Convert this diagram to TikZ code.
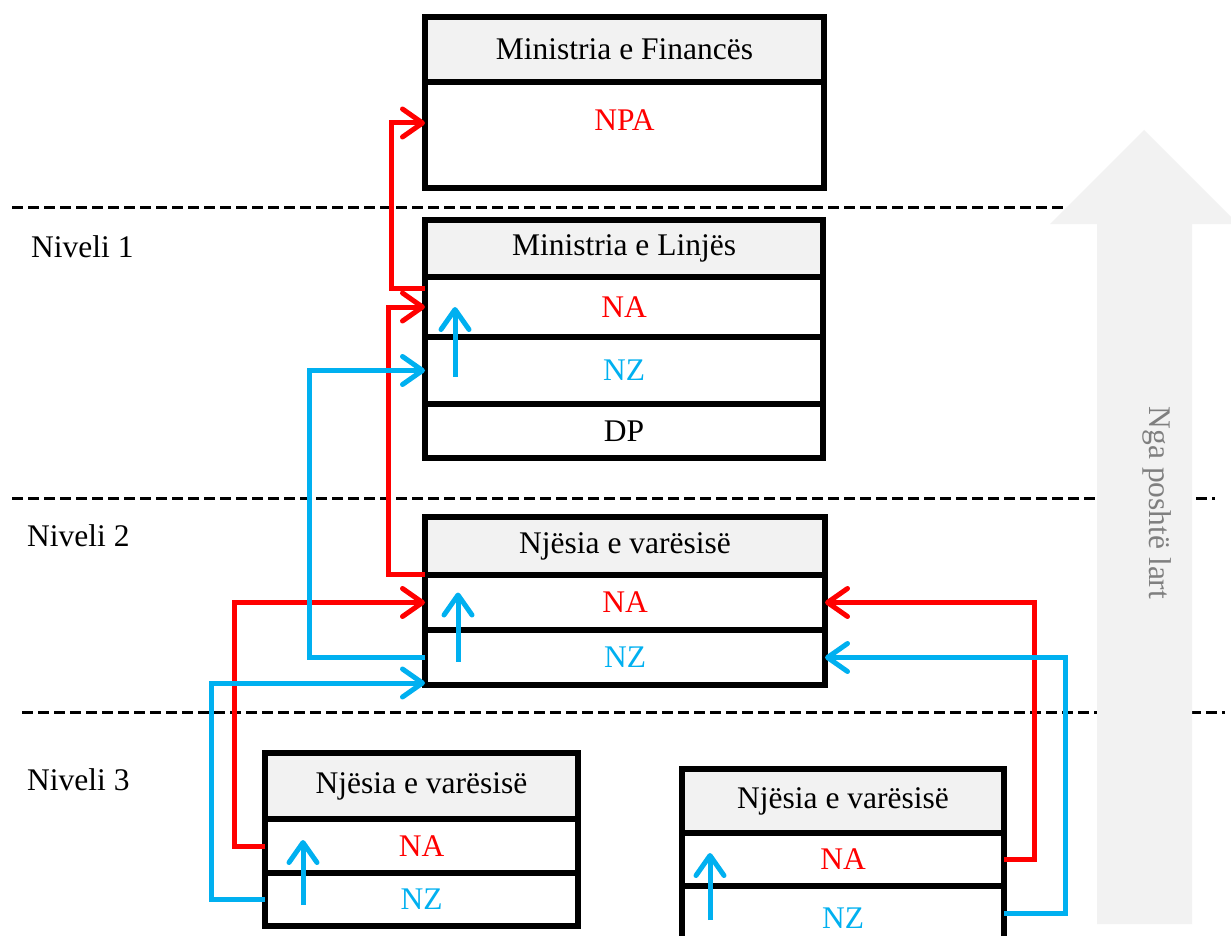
\documentclass[tikz,border=0pt]{standalone}
\usepackage{fontspec}
\setmainfont{LiberationSerif}[Extension=.ttf, UprightFont=*-Regular, BoldFont=*-Bold]
\usetikzlibrary{arrows.meta}
\definecolor{hdrgray}{HTML}{F2F2F2}
\definecolor{nzblue}{HTML}{00B0F0}
\definecolor{nared}{HTML}{FF0000}
\definecolor{biggray}{HTML}{F2F2F2}
\definecolor{txtgray}{HTML}{7F7F7F}
\begin{document}
\begin{tikzpicture}[x=1pt,y=-1pt,
  every node/.style={font=\rmfamily\fontsize{31.5}{36}\selectfont},
  rowbox/.style={draw=black, line width=6pt, rectangle, outer sep=0pt, inner sep=2pt},
  hdr/.style={rowbox, fill=hdrgray},
  arrtip/.style={-{Straight Barb[length=20pt,width=28pt,round]}},
  redc/.style={draw=nared, line width=5pt},
  bluec/.style={draw=nzblue, line width=5pt},
  lvl/.style={anchor=west, inner sep=0pt},
  divider/.style={draw=black, line width=3pt, dash pattern=on 11pt off 5pt}
]
\useasboundingbox (0,0) rectangle (1231,936);
\fill[white] (0,0) rectangle (1231,936);
\clip (0,0) rectangle (1231,936);

% dashed level dividers
\draw[divider] (12,208) -- (1070,208);
\draw[divider] (12,498) -- (1215,498);
\draw[divider] (22,712) -- (1225,712);

% big background arrow
\fill[biggray] (1097,924) -- (1097,224) -- (1050,224) -- (1144,130) -- (1238,224) -- (1192,224) -- (1192,924) -- cycle;
\node[text=txtgray, rotate=-90, inner sep=0pt] (dir) at (1157,503) {Nga poshtë lart};

% level labels
\node[lvl] (lv1) at (31,247) {Niveli 1};
\node[lvl] (lv2) at (27,536) {Niveli 2};
\node[lvl] (lv3) at (27,780) {Niveli 3};

% Ministria e Finances
\node[hdr, minimum width=399pt, minimum height=65pt] (finH) at (624.5,49.5) {Ministria e Financës};
\node[rowbox, minimum width=399pt, minimum height=106pt] (finB) at (624.5,135) {};
\node[text=nared] (npa) at (624.5,120) {NPA};

% Ministria e Linjes
\node[hdr, minimum width=398pt, minimum height=57pt] (lnH) at (624,248.5) {Ministria e Linjës};
\node[rowbox, minimum width=398pt, minimum height=60pt, text=nared] (lnA) at (624,307) {NA};
\node[rowbox, minimum width=398pt, minimum height=67pt, text=nzblue] (lnZ) at (624,370.5) {NZ};
\node[rowbox, minimum width=398pt, minimum height=54pt] (lnD) at (624,431) {DP};

% Njesia level 2
\node[hdr, minimum width=400pt, minimum height=58pt] (njH) at (625,546) {Njësia e varësisë};
\node[rowbox, minimum width=400pt, minimum height=55pt, text=nared] (njA) at (625,602.5) {NA};
\node[rowbox, minimum width=400pt, minimum height=55pt, text=nzblue] (njZ) at (625,657.5) {NZ};

% Njesia level 3 left
\node[hdr, minimum width=313pt, minimum height=66pt] (lH) at (421.5,786) {Njësia e varësisë};
\node[rowbox, minimum width=313pt, minimum height=54pt, text=nared] (lA) at (421.5,846) {NA};
\node[rowbox, minimum width=313pt, minimum height=53pt, text=nzblue] (lZ) at (421.5,899.5) {NZ};

% Njesia level 3 right
\node[hdr, minimum width=322pt, minimum height=64pt] (rH) at (843,801) {Njësia e varësisë};
\node[rowbox, minimum width=322pt, minimum height=53pt, text=nared] (rA) at (843,859.5) {NA};
\node[rowbox, minimum width=322pt, minimum height=64pt, text=nzblue] (rZ) at (843,918) {NZ};

% red connectors
\draw[redc, arrtip] ([yshift=19pt]lnA.west) -- ++(-34,0) |- ([yshift=12pt]finB.west);
\draw[redc, arrtip] ([yshift=1pt]njA.north west) -- ++(-37,0) |- (lnA.west);
\draw[redc, arrtip] (lA.west) -- ++(-31,0) |- (njA.west);
\draw[redc, arrtip] (rA.east) -- ++(30,0) |- (njA.east);

% blue connectors
\draw[bluec, arrtip] (njZ.west) -- ++(-116,0) |- (lnZ.west);
\draw[bluec, arrtip] (lZ.west) -- ++(-54,0) |- ([yshift=2pt]njZ.south west);
\draw[bluec, arrtip] ([yshift=5pt]rZ.east) -- ++(61,0) |- (njZ.east);

% blue internal up arrows
\draw[bluec, arrtip] ([xshift=30pt,yshift=-6pt]lnZ.west) -- ([xshift=30pt]lnA.west);
\draw[bluec, arrtip] ([xshift=33pt,yshift=-4pt]njZ.west) -- ([xshift=33pt,yshift=10pt]njA.west);
\draw[bluec, arrtip] ([xshift=38pt,yshift=-5.5pt]lZ.west) -- ([xshift=38pt,yshift=6pt]lA.west);
\draw[bluec, arrtip] ([xshift=28pt,yshift=-2pt]rZ.west) -- ([xshift=28pt,yshift=6.5pt]rA.west);
\end{tikzpicture}
\end{document}
